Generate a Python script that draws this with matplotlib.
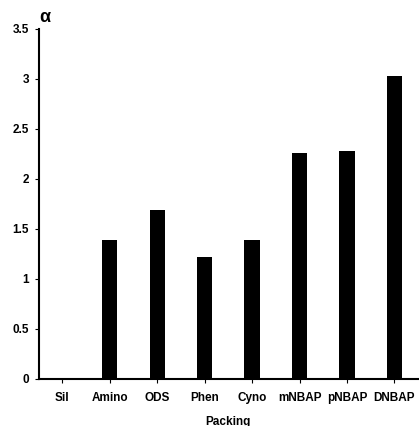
import numpy as np
import matplotlib
matplotlib.use("Agg")
import matplotlib.pyplot as plt

# alpha per packing
packing = ["Sil", "Amino", "ODS", "Phen", "Cyno", "mNBAP", "pNBAP", "DNBAP"]
alpha_vals = [0.0, 1.39, 1.685, 1.22, 1.385, 2.26, 2.28, 3.025]
yticks = [0, 0.5, 1, 1.5, 2, 2.5, 3, 3.5]
ytick_labels = ["0", "0.5", "1", "1.5", "2", "2.5", "3", "3.5"]

plt.rcParams["font.family"] = ["Liberation Sans", "DejaVu Sans"]

fig = plt.figure(figsize=(4.19, 4.26), dpi=100)
ax = fig.add_axes([0.092, 0.1115, 0.906, 0.8215])

x = np.arange(len(packing))
ax.bar(x, alpha_vals, width=0.32, color="black")

ax.set_xlim(-0.5, len(packing) - 0.5)
ax.set_ylim(0, 3.5)
ax.set_yticks(yticks)
ax.set_yticklabels(ytick_labels, fontsize=8.5, fontweight="bold")
ax.set_xticks(x)
ax.set_xticklabels(packing, fontsize=8.5, fontweight="bold")
ax.tick_params(axis="both", length=3, width=0.8)
ax.tick_params(axis="x", pad=7)
ax.tick_params(axis="y", pad=4)

for s in ["top", "right"]:
    ax.spines[s].set_visible(False)
for s in ["left", "bottom"]:
    ax.spines[s].set_linewidth(1.5)

ax.set_xlabel("Packing", fontsize=8.5, fontweight="bold", labelpad=8)
fig.text(0.108, 0.958, "\u03b1", fontsize=13, fontweight="bold", ha="center", va="center")

fig.savefig("out.png", dpi=100)
